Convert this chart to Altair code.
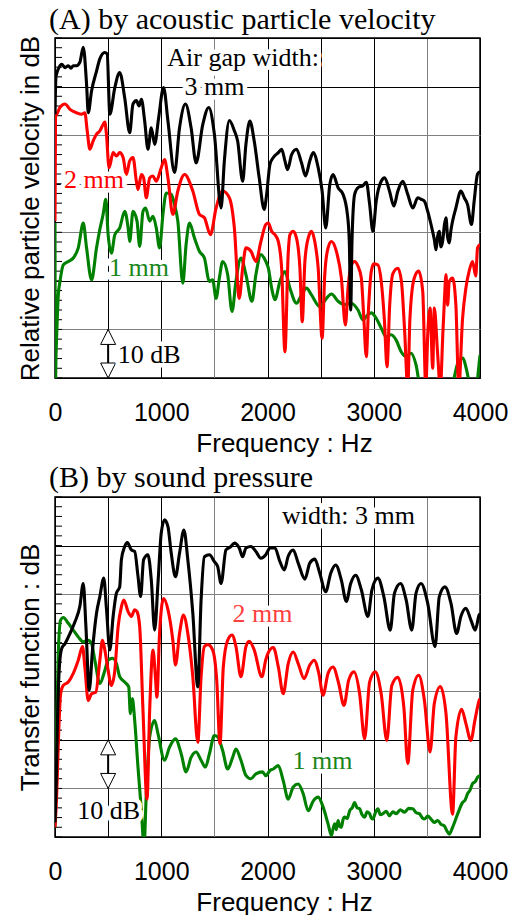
import altair as alt
import pandas as pd

# ---------------- data (frequency Hz, level dB) ----------------
A_3MM = [(0,54.3),(9,62.0),(47,64.3),(63,64.6),(94,63.9),(125,64.3),(150,63.8),(172,64.3),(203,64.3),(234,65.0),
         (266,68.1),(297,60.5),(313,54.6),(344,59.1),(391,63.2),(422,65.7),(469,67.0),(491,66.7),(516,54.3),(563,59.8),
         (609,62.9),(656,57.7),(703,50.5),(734,56.4),(766,57.1),(791,56.0),(813,57.4),(844,52.9),(875,47.1),(906,51.5),
         (938,48.1),(975,53.5),(1022,59.8),(1063,52.9),(1125,42.3),(1172,51.5),(1228,56.4),(1281,51.5),(1328,44.3),
         (1391,52.2),(1447,55.7),(1500,50.2),(1563,35.0),(1594,44.7),(1641,53.0),(1688,50.9),(1719,48.8),(1766,40.5),
         (1797,48.1),(1834,52.9),(1875,48.8),(1922,41.2),(1969,34.7),(1992,37.8),(2023,44.0),(2055,45.4),(2102,46.4),
         (2133,47.1),(2164,44.7),(2189,42.9),(2227,46.0),(2273,47.1),(2320,44.3),(2358,41.6),(2398,44.7),(2430,46.4),
         (2477,43.3),(2514,38.5),(2548,30.9),(2586,39.8),(2617,41.9),(2664,39.2),(2711,37.8),(2752,33.7),(2770,28.0),
         (2783,14.0),(2795,28.0),(2820,37.8),(2852,39.2),(2898,39.6),(2930,40.3),(2961,35.8),(2992,30.2),(3023,36.4),
         (3070,40.5),(3102,41.2),(3148,38.5),(3189,35.4),(3227,38.5),(3273,40.5),(3320,37.8),(3367,35.0),(3414,37.1),
         (3445,36.8),(3477,36.4),(3508,34.3),(3539,31.6),(3570,28.5),(3586,26.4),(3600,29.0),(3617,30.2),(3632,27.0),
         (3648,28.1),(3665,31.5),(3680,33.0),(3695,29.0),(3711,27.8),(3727,30.5),(3742,32.3),(3773,35.0),(3820,38.5),
         (3852,37.1),(3883,35.7),(3920,31.6),(3945,36.4),(3977,42.0),(4000,42.5)]

A_2MM = [(0,32.3),(5,54.0),(16,54.3),(47,55.7),(94,56.4),(141,55.3),(203,54.6),(250,54.3),(281,54.6),(303,50.9),
         (328,47.1),(359,48.8),(391,50.2),(422,50.9),(453,52.2),(469,52.7),(484,50.2),(509,43.3),(547,46.4),(578,45.7),
         (609,46.4),(641,45.4),(672,41.9),(703,44.7),(734,45.4),(766,40.5),(781,38.8),(813,41.9),(834,41.2),(859,37.1),
         (891,41.2),(922,41.6),(953,40.5),(1000,43.3),(1031,45.0),(1063,41.2),(1109,33.7),(1156,38.5),(1219,41.9),
         (1297,38.5),(1359,33.7),(1406,33.0),(1463,29.5),(1516,35.0),(1578,38.5),(1641,37.1),(1688,30.9),(1734,16.4),
         (1766,22.6),(1797,26.8),(1844,26.1),(1891,24.0),(1938,28.1),(1984,31.6),(2008,31.9),(2039,30.2),(2070,29.5),
         (2102,28.1),(2133,22.6),(2164,5.4),(2195,25.7),(2211,29.5),(2242,30.2),(2273,28.8),(2305,22.6),(2327,11.6),
         (2352,24.0),(2383,28.8),(2414,30.2),(2445,28.1),(2477,22.6),(2514,8.2),(2539,21.3),(2570,26.8),(2602,28.1),
         (2648,26.1),(2695,20.6),(2733,10.9),(2758,18.5),(2789,23.3),(2820,24.0),(2852,23.0),(2883,20.6),(2905,13.0),
         (2930,4.4),(2950,14.0),(2977,22.0),(3000,23.5),(3039,23.3),(3070,20.0),(3100,12.0),(3125,2.3),(3150,15.0),
         (3180,21.5),(3227,22.6),(3260,20.0),(3290,10.0),(3320,-2.0),(3340,12.0),(3380,20.5),(3423,22.0),(3461,17.8),
         (3490,-2.0),(3508,8.9),(3530,14.4),(3555,2.0),(3570,14.4),(3600,5.4),(3627,-2.0),(3650,9.0),(3665,16.0),
         (3680,21.3),(3695,15.0),(3711,19.9),(3742,20.6),(3773,15.0),(3800,-2.0),(3836,12.3),(3867,18.5),(3898,22.0),
         (3930,24.0),(3960,21.0),(3977,26.8),(4000,27.5)]

A_1MM = [(0,31.9),(4,-1.0),(10,5.0),(16,8.9),(31,17.1),(47,19.9),(78,23.3),(125,24.0),(172,24.7),(219,26.8),
         (266,31.9),(297,26.8),(344,20.2),(391,26.8),(422,30.6),(453,33.7),(478,36.8),(500,29.5),(531,25.7),(563,29.5),
         (609,30.9),(656,34.3),(688,30.9),(703,28.1),(734,34.3),(772,32.3),(797,27.1),(828,34.3),(853,35.0),(891,32.3),
         (922,33.3),(953,30.9),(984,26.8),(1016,33.7),(1047,38.1),(1094,37.8),(1125,35.7),(1156,32.3),(1203,19.5),
         (1234,27.5),(1266,31.9),(1313,28.8),(1359,26.1),(1406,24.7),(1453,19.9),(1484,20.2),(1516,16.4),(1547,20.6),
         (1578,24.0),(1625,21.3),(1666,13.7),(1703,19.9),(1750,24.7),(1797,21.3),(1853,15.8),(1891,21.3),(1938,25.4),
         (1984,24.0),(2008,22.6),(2039,18.5),(2070,16.1),(2117,19.9),(2164,21.9),(2211,18.5),(2273,15.4),(2320,17.1),
         (2367,18.5),(2414,17.1),(2492,14.7),(2555,16.4),(2602,17.3),(2664,15.8),(2727,15.1),(2789,15.4),(2852,14.0),
         (2898,12.0),(2945,13.0),(2977,13.4),(3023,12.3),(3070,10.3),(3117,8.5),(3164,8.9),(3211,7.8),(3258,5.4),
         (3305,4.4),(3352,5.1),(3398,2.7),(3440,-2.0),(3550,-3.0),(3700,-3.0),(3745,-1.0),(3790,3.0),(3840,4.1),
         (3870,2.0),(3906,-1.0),(3960,-1.0),(4000,4.7)]

B_3MM = [(0,3.0),(10,10.0),(22,22.6),(41,35.0),(63,38.8),(94,39.8),(141,41.9),(188,44.3),(234,47.5),(266,52.2),
         (291,43.3),(322,30.2),(353,38.5),(391,46.1),(422,49.5),(459,53.3),(484,47.1),(516,38.5),(547,45.4),(578,50.2),
         (609,51.5),(625,57.1),(656,59.8),(681,60.6),(719,59.1),(750,58.8),(781,53.7),(806,49.5),(834,57.1),(875,58.1),
         (906,53.0),(938,42.6),(969,52.2),(1000,62.6),(1031,65.3),(1063,63.9),(1094,58.4),(1134,53.6),(1172,58.4),
         (1213,63.2),(1250,57.1),(1297,46.1),(1344,30.9),(1375,48.8),(1406,57.7),(1453,58.1),(1500,56.7),(1531,55.7),
         (1563,52.2),(1609,59.1),(1656,59.8),(1688,60.5),(1734,59.5),(1766,57.7),(1797,59.5),(1844,59.8),(1891,58.8),
         (1938,57.4),(1984,58.1),(2023,59.5),(2070,59.5),(2117,56.7),(2158,55.0),(2195,57.8),(2242,59.1),(2289,56.4),
         (2352,53.1),(2398,56.4),(2445,57.2),(2492,54.3),(2548,50.5),(2595,54.3),(2642,56.0),(2695,52.9),(2742,48.5),
         (2783,52.2),(2830,53.9),(2883,50.9),(2945,45.4),(2983,50.9),(3039,53.3),(3095,49.5),(3155,42.6),(3195,50.2),
         (3252,52.2),(3305,48.8),(3358,42.6),(3398,50.2),(3445,52.2),(3508,48.1),(3577,39.2),(3617,49.5),(3670,51.5),
         (3727,48.1),(3780,41.9),(3820,45.4),(3867,47.1),(3914,44.7),(3955,42.6),(3992,45.7),(4000,46.0)]

B_2MM = [(0,2.0),(16,8.9),(31,19.2),(53,29.5),(78,31.2),(125,31.9),(172,33.7),(219,36.4),(259,39.2),(281,35.0),
         (313,28.1),(344,29.5),(384,29.8),(422,36.4),(447,40.5),(469,38.5),(500,34.3),(531,31.2),(563,34.3),(594,43.3),
         (625,47.4),(647,48.8),(688,46.4),(719,45.4),(750,46.8),(772,46.4),(797,43.3),(828,26.1),(866,7.8),(891,26.1),
         (922,38.5),(947,32.3),(959,28.8),(984,41.9),(1022,49.1),(1063,46.8),(1109,40.5),(1134,35.4),(1172,41.9),
         (1209,45.7),(1250,41.9),(1297,33.0),(1344,19.5),(1375,33.0),(1406,39.2),(1438,39.6),(1484,38.5),(1522,32.3),
         (1553,19.2),(1584,35.0),(1625,40.5),(1666,41.6),(1703,39.2),(1750,33.0),(1797,39.2),(1828,40.3),(1875,38.5),
         (1947,33.0),(1984,36.5),(2008,38.0),(2055,39.0),(2102,35.0),(2148,29.5),(2195,35.7),(2242,38.1),(2289,35.7),
         (2345,32.6),(2398,35.4),(2439,36.4),(2483,33.7),(2523,29.2),(2570,33.7),(2617,35.0),(2670,31.6),(2720,27.1),
         (2764,32.3),(2814,34.0),(2867,29.5),(2914,20.2),(2961,31.9),(3014,34.0),(3070,29.5),(3123,19.9),(3170,31.2),
         (3227,32.9),(3283,26.8),(3320,15.1),(3367,30.2),(3423,33.3),(3477,28.1),(3530,17.5),(3570,27.5),(3627,31.0),
         (3680,25.4),(3742,4.7),(3773,20.6),(3827,26.3),(3867,23.4),(3914,19.9),(3952,24.0),(3992,28.1),(4000,28.5)]

B_1MM = [(0,2.0),(16,22.6),(31,37.8),(53,44.7),(78,45.2),(125,44.0),(172,42.6),(219,41.2),(266,40.2),(313,40.5),
         (344,39.8),(375,36.4),(422,31.6),(469,34.3),(500,36.4),(541,36.8),(578,35.7),(609,33.0),(656,31.9),(694,30.9),
         (709,25.4),(728,28.5),(750,24.0),(781,14.4),(813,5.4),(838,-2.0),(859,8.9),(891,20.6),(938,24.0),(969,21.3),
         (1031,15.8),(1078,18.5),(1134,20.2),(1188,17.1),(1234,13.4),(1281,16.4),(1328,17.5),(1375,15.8),(1416,14.4),
         (1453,17.1),(1500,20.9),(1531,20.6),(1578,17.8),(1625,14.0),(1672,16.4),(1703,18.1),(1750,15.8),(1797,12.7),
         (1844,12.0),(1891,13.0),(1953,13.4),(1984,12.6),(2023,13.7),(2055,14.0),(2102,14.7),(2148,11.6),(2195,7.8),
         (2242,10.3),(2289,10.9),(2336,8.9),(2383,5.4),(2430,7.4),(2477,8.2),(2523,6.2),(2570,2.7),(2602,0.3),
         (2618,1.8),(2633,2.7),(2648,1.5),(2664,3.4),(2680,2.2),(2695,2.0),(2711,3.6),(2727,4.1),(2750,3.8),
         (2773,5.4),(2797,6.0),(2820,7.1),(2843,6.0),(2867,5.8),(2890,4.6),(2914,4.1),(2938,5.2),(2961,4.8),
         (2977,3.9),(2992,3.7),(3015,5.0),(3039,5.8),(3062,4.6),(3086,4.8),(3117,5.3),(3148,4.4),(3180,5.2),
         (3211,4.8),(3250,5.6),(3289,5.1),(3328,5.9),(3367,5.8),(3400,5.0),(3430,4.8),(3455,4.0),(3477,3.7),
         (3508,4.3),(3539,3.7),(3570,3.0),(3602,3.4),(3633,2.6),(3664,2.3),(3690,1.2),(3711,0.6),(3742,2.0),
         (3789,4.7),(3836,7.1),(3860,7.6),(3883,8.9),(3905,9.6),(3930,11.0),(3955,11.4),(3977,12.3),(4000,12.6)]

SERIES_NAMES = ["1 mm", "2 mm", "3 mm"]
SERIES_COLORS = ["#008000", "#ff0000", "#000000"]
X_TICKS = list(range(0, 4001, 500))
Y_GRID = list(range(0, 71, 10))
Y_MINOR = list(range(0, 71, 2))

SANS = "Liberation Sans"
SERIF = "Liberation Serif"
W, H = 425, 340


def x_enc():
    return alt.X(
        "f:Q",
        scale=alt.Scale(domain=[0, 4000], nice=False, zero=False),
        axis=alt.Axis(
            values=X_TICKS, format="d",
            labelExpr="datum.value % 1000 == 0 ? datum.label : ''",
            grid=True, gridWidth=1,
            gridColor={"condition": {"test": "datum.value == 1500 || datum.value == 3500", "value": "#808080"},
                       "value": "#000000"},
            ticks=False, domain=False,
            labelFont=SANS, labelFontSize=25, labelColor="black", labelPadding=22,
            labelFlush=False, labelOverlap=False, labelBound=False,
            title="Frequency : Hz", titleFont=SANS, titleFontSize=26, titleFontWeight="normal",
            titleColor="black", titlePadding=5, titleX=229,
        ),
    )


def y_enc(title):
    return alt.Y(
        "db:Q",
        scale=alt.Scale(domain=[0, 70], nice=False, zero=False),
        axis=alt.Axis(
            values=Y_GRID, labels=False, ticks=False, domain=False,
            grid=True, gridWidth=1,
            gridColor={"condition": {"test": "datum.value == 10 || datum.value == 30 || datum.value == 50",
                                     "value": "#808080"}, "value": "#000000"},
            title=title, titleFont=SANS, titleFontSize=26, titleFontWeight="normal",
            titleColor="black", titlePadding=12,
        ),
    )


def note(text, f, db, color, align="center"):
    src = alt.Data(values=[{}])
    enc = dict(x=alt.datum(f), y=alt.datum(db))
    common = dict(text=text, font=SERIF, fontSize=26, align=align, baseline="alphabetic")
    halo = alt.Chart(src).mark_text(color="white", stroke="white", strokeWidth=9,
                                    strokeJoin="round", **common).encode(**enc)
    txt = alt.Chart(src).mark_text(color=color, **common).encode(**enc)
    return [halo, txt]


def arrow(lo, hi):
    src = alt.Data(values=[{}])
    shaft = alt.Chart(src).mark_rule(color="black", strokeWidth=2).encode(
        x=alt.datum(500), y=alt.datum(lo), y2=alt.datum(hi))
    up = alt.Chart(src).mark_point(shape="M0,0L1,2L-1,2Z", size=225, filled=True, fill="white",
                                   stroke="black", strokeWidth=1, opacity=1).encode(
        x=alt.datum(500), y=alt.datum(hi))
    down = alt.Chart(src).mark_point(shape="M0,0L1,-2L-1,-2Z", size=225, filled=True, fill="white",
                                     stroke="black", strokeWidth=1, opacity=1).encode(
        x=alt.datum(500), y=alt.datum(lo))
    return [shaft, up, down]


def panel(curves, title, ytitle, notes, arr, title_offset):
    layers = []
    ticks = alt.Chart(pd.DataFrame({"db": Y_MINOR})).mark_rule(color="black", strokeWidth=1).encode(
        x=alt.value(0), x2=alt.value(7), y=y_enc(ytitle))
    layers.append(ticks)
    for name, color in zip(SERIES_NAMES, SERIES_COLORS):
        df = pd.DataFrame(curves[name], columns=["f", "db"])
        layers.append(
            alt.Chart(df).mark_line(color=color, strokeWidth=3.1, clip=True, interpolate="monotone",
                                    strokeJoin="round").encode(
                x=x_enc(), y=y_enc(ytitle), order="f:Q")
        )
    layers += arrow(*arr)
    for n in notes:
        layers += note(*n)
    return alt.layer(*layers).properties(
        width=W, height=H,
        title=alt.TitleParams(title, font=SERIF, fontSize=30, fontWeight="normal", color="black",
                              anchor="start", frame="group", offset=title_offset, dx=-6),
    )


panel_a = panel(
    {"1 mm": A_1MM, "2 mm": A_2MM, "3 mm": A_3MM},
    "(A) by acoustic particle velocity",
    "Relative particle velocity in dB",
    [("Air gap width:", 1770, 64.2, "black"),
     ("3 mm", 1500, 58.3, "black"),
     ("2 mm", 367, 39.1, "#ff0000"),
     ("1 mm", 790, 20.9, "#1a861a"),
     ("10 dB", 590, 3.1, "black", "left")],
    (0, 10),
    0,
)

panel_b = panel(
    {"1 mm": B_1MM, "2 mm": B_2MM, "3 mm": B_3MM},
    "(B) by sound pressure",
    "Transfer function : dB",
    [("width: 3 mm", 2762, 64.4, "black"),
     ("2 mm", 1953, 44.3, "#ff4040"),
     ("1 mm", 2518, 14.0, "#1a861a"),
     ("10 dB", 505, 3.7, "black")],
    (10, 20),
    4,
)

chart = alt.vconcat(panel_a, panel_b, spacing=119, bounds="flush").properties(
    padding={"left": 16, "top": 4, "right": 5, "bottom": 2},
    background="white",
).configure_view(stroke="black", strokeWidth=1.5)

chart.save("out.html", embed_options={"renderer": "svg", "actions": False})
